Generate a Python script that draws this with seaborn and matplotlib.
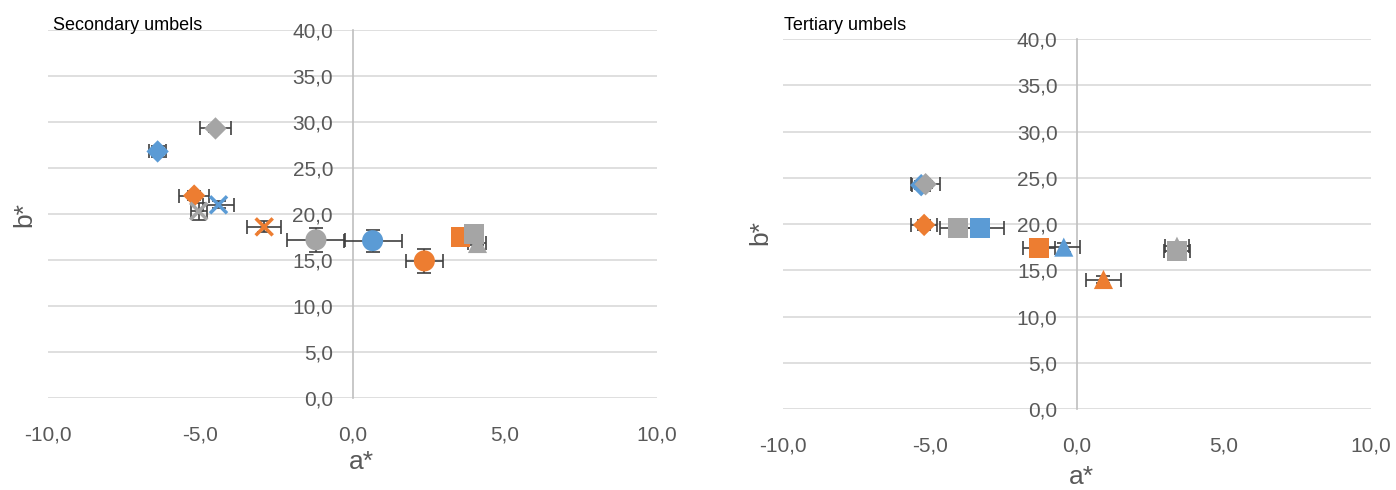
import matplotlib
matplotlib.use("Agg")
import matplotlib.pyplot as plt
import seaborn as sns
import pandas as pd

# colours used by the series (Excel default palette)
palette = {"blue": "#5B9BD5", "orange": "#ED7D31", "gray": "#A5A5A5"}
markers = {"diamond": "D", "x": "x", "circle": "o", "square": "s", "triangle": "^"}
msize = {"diamond": 130, "x": 150, "circle": 230, "square": 200, "triangle": 190}

# secondary umbels
sec_color = ["blue", "gray", "orange", "gray", "blue", "orange", "gray", "blue", "orange", "orange", "gray", "gray"]
sec_shape = ["diamond", "diamond", "diamond", "x", "x", "x", "circle", "circle", "circle", "square", "square", "triangle"]
sec_a = [-6.4, -4.5, -5.2, -5.05, -4.4, -2.9, -1.2, 0.66, 2.36, 3.55, 4.0, 4.1]
sec_b = [26.8, 29.3, 22.0, 20.3, 21.0, 18.6, 17.2, 17.1, 14.9, 17.5, 17.8, 16.9]
sec_a_err = [0.28, 0.5, 0.5, 0.27, 0.5, 0.55, 0.95, 0.95, 0.6, 0.25, 0.2, 0.3]
sec_b_err = [0.6, 0.4, 0.5, 0.9, 0.4, 0.6, 1.3, 1.2, 1.3, 0.4, 0.4, 0.3]

# tertiary umbels
ter_color = ["blue", "gray", "orange", "gray", "blue", "orange", "blue", "orange", "gray", "gray"]
ter_shape = ["diamond", "diamond", "diamond", "square", "square", "square", "triangle", "triangle", "triangle", "square"]
ter_a = [-5.3, -5.15, -5.2, -4.05, -3.3, -1.3, -0.45, 0.9, 3.4, 3.4]
ter_b = [24.2, 24.3, 19.9, 19.6, 19.6, 17.4, 17.5, 14.0, 17.6, 17.1]
ter_a_err = [0.3, 0.5, 0.45, 0.6, 0.8, 0.55, 0.55, 0.6, 0.4, 0.43]
ter_b_err = [0.4, 0.4, 0.5, 0.6, 0.5, 0.8, 0.5, 0.4, 0.4, 0.4]

ticks_x = [-10, -5, 0, 5, 10]
ticks_y = [0, 5, 10, 15, 20, 25, 30, 35, 40]

sns.set_style("white")
plt.rcParams["font.family"] = ["Liberation Sans", "DejaVu Sans"]
plt.rcParams["axes.unicode_minus"] = False

fig = plt.figure(figsize=(13.96, 4.9), dpi=100)
ax1 = fig.add_axes([48 / 1396, 1 - 398 / 490, 609 / 1396, 368 / 490])
ax2 = fig.add_axes([783 / 1396, 1 - 409 / 490, 588 / 1396, 370 / 490])


def draw(ax, color, shape, a, b, a_err, b_err, title, title_x, ylab_y, xlab_x, xlab_y):
    df = pd.DataFrame({"a": a, "b": b, "a_err": a_err, "b_err": b_err,
                       "color": color, "shape": shape})
    for _, r in df.iterrows():
        ax.errorbar(r["a"], r["b"], xerr=r["a_err"], yerr=r["b_err"], fmt="none",
                    ecolor="#404040", elinewidth=1.2, capsize=5, capthick=1.2, zorder=2)
    for shp, sub in df.groupby("shape", sort=False):
        if shp == "x":
            sns.scatterplot(data=sub, x="a", y="b", hue="color", palette=palette,
                            marker="x", s=msize[shp], linewidth=2.5,
                            legend=False, ax=ax, zorder=3)
        else:
            sns.scatterplot(data=sub, x="a", y="b", hue="color", palette=palette,
                            marker=markers[shp], s=msize[shp], linewidth=0,
                            legend=False, ax=ax, zorder=3)
    ax.set_xlim(-10, 10)
    ax.set_ylim(0, 40)
    ax.set_xticks(ticks_x)
    ax.set_yticks(ticks_y)
    ax.set_xticklabels([f"{t:.1f}".replace(".", ",") for t in ticks_x])
    ax.set_yticklabels([f"{t:.1f}".replace(".", ",") for t in ticks_y])
    ax.grid(axis="y", color="#D9D9D9", linewidth=1.2)
    ax.set_axisbelow(True)
    for s in ["top", "right", "bottom"]:
        ax.spines[s].set_visible(False)
    ax.spines["left"].set_position(("data", 0))
    ax.spines["left"].set_color("#BFBFBF")
    ax.spines["left"].set_linewidth(1.2)
    ax.spines["left"].set_zorder(1)
    ax.tick_params(axis="both", length=0, labelsize=15, labelcolor="#595959")
    ax.tick_params(axis="x", pad=20)
    ax.tick_params(axis="y", pad=14)
    ax.set_xlabel("")
    ax.set_ylabel("")
    ax.text(-0.039, ylab_y, "b*", transform=ax.transAxes, rotation=90, fontsize=19,
            color="#595959", ha="center", va="center")
    ax.text(xlab_x, xlab_y, "a*", transform=ax.transAxes, fontsize=19,
            color="#595959", ha="center", va="top")
    fig.text(title_x / 1396, 1 - 25 / 490, title, fontsize=13, color="black", va="center")


draw(ax1, sec_color, sec_shape, sec_a, sec_b, sec_a_err, sec_b_err,
     "Secondary umbels", 53, 0.5, 0.515, -0.14)
draw(ax2, ter_color, ter_shape, ter_a, ter_b, ter_a_err, ter_b_err,
     "Tertiary umbels", 784, 0.478, 0.508, -0.152)

fig.savefig("out.png", dpi=100)
